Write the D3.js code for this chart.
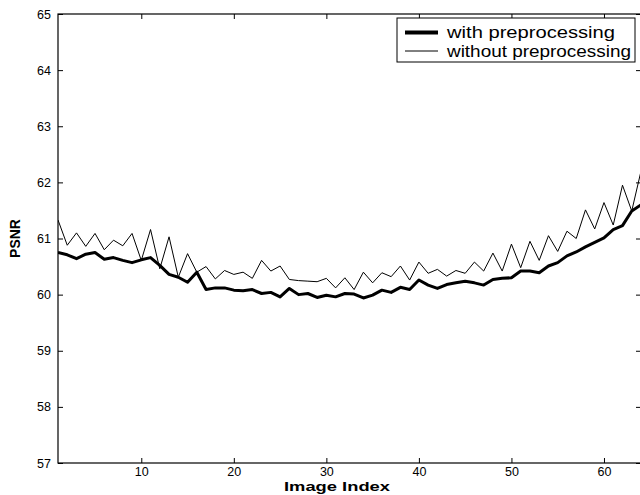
<!DOCTYPE html>
<html>
<head>
<meta charset="utf-8">
<script src="https://cdn.jsdelivr.net/npm/d3@7"></script>
<style>
  body { margin: 0; background: #fff; }
  text { font-family: "Liberation Sans", Arial, sans-serif; fill: #000; }
</style>
</head>
<body>
<svg id="chart" width="640" height="495"></svg>
<script>
const imageIndex = d3.range(1, 65);

const withPre = [
  60.75, 60.71, 60.64, 60.72, 60.75, 60.63, 60.66, 60.61, 60.57, 60.62,
  60.66, 60.52, 60.36, 60.31, 60.22, 60.40, 60.09, 60.12, 60.12, 60.08,
  60.07, 60.09, 60.02, 60.04, 59.96, 60.11, 60.00, 60.02, 59.95, 59.99,
  59.96, 60.02, 60.01, 59.94, 59.99, 60.08, 60.04, 60.13, 60.09, 60.26,
  60.17, 60.11, 60.18, 60.21, 60.24, 60.21, 60.17, 60.27, 60.29, 60.30,
  60.42, 60.42, 60.39, 60.51, 60.57, 60.69, 60.76, 60.85, 60.93, 61.01,
  61.16, 61.23, 61.49, 61.60
];

const withoutPre = [
  61.33, 60.88, 61.10, 60.86, 61.09, 60.80, 60.97, 60.87, 61.09, 60.61,
  61.16, 60.46, 61.03, 60.31, 60.73, 60.40, 60.50, 60.28, 60.43, 60.36,
  60.40, 60.29, 60.61, 60.42, 60.51, 60.27, 60.25, 60.24, 60.23, 60.29,
  60.12, 60.30, 60.09, 60.40, 60.21, 60.39, 60.32, 60.51, 60.26, 60.58,
  60.38, 60.45, 60.33, 60.43, 60.38, 60.58, 60.42, 60.74, 60.42, 60.90,
  60.48, 60.95, 60.61, 61.05, 60.77, 61.13, 61.00, 61.51, 61.17, 61.64,
  61.24, 61.95, 61.49, 62.20
];

const xTicks = [10, 20, 30, 40, 50, 60];
const yTicks = [57, 58, 59, 60, 61, 62, 63, 64, 65];
const legendLabels = ['with preprocessing', 'without preprocessing'];

const plotLeft = 58, plotTop = 14, plotRight = 641, plotBottom = 463;

const svg = d3.select('#chart');

const x = d3.scaleLinear().domain([1, 64]).range([plotLeft, plotRight]);
const y = d3.scaleLinear().domain([57, 65]).range([plotBottom, plotTop]);

// clip so the lines stop at the frame
svg.append('defs').append('clipPath')
    .attr('id', 'plot-clip')
  .append('rect')
    .attr('x', plotLeft).attr('y', plotTop)
    .attr('width', plotRight - plotLeft).attr('height', plotBottom - plotTop);

const axes = svg.append('g');

// axes: labels outside, ticks pointing inward
const tickLen = 5;
axes.append('g')
    .attr('transform', `translate(0,${plotBottom})`)
    .call(d3.axisBottom(x).tickValues(xTicks).tickSize(-tickLen).tickPadding(4))
    .call(g => g.select('.domain').remove());
axes.append('g')
    .attr('transform', `translate(0,${plotTop})`)
    .call(d3.axisTop(x).tickValues(xTicks).tickSize(-tickLen).tickFormat(''))
    .call(g => g.select('.domain').remove());
axes.append('g')
    .attr('transform', `translate(${plotLeft},0)`)
    .call(d3.axisLeft(y).tickValues(yTicks).tickSize(-tickLen).tickPadding(7))
    .call(g => g.select('.domain').remove());
axes.append('g')
    .attr('transform', `translate(${plotRight},0)`)
    .call(d3.axisRight(y).tickValues(yTicks).tickSize(-tickLen).tickFormat(''))
    .call(g => g.select('.domain').remove());

axes.selectAll('.tick line').attr('stroke', '#000');
axes.selectAll('.tick text')
    .attr('font-size', 12.5)
    .style('font-family', '"Liberation Sans", Arial, sans-serif');

axes.append('rect')
    .attr('x', plotLeft).attr('y', plotTop)
    .attr('width', plotRight - plotLeft).attr('height', plotBottom - plotTop)
    .attr('fill', 'none')
    .attr('stroke', '#000')
    .attr('stroke-width', 1.2);

const line = d3.line()
    .x((d, i) => x(imageIndex[i]))
    .y(d => y(d));

const lines = svg.append('g').attr('clip-path', 'url(#plot-clip)');
lines.append('path')
    .datum(withoutPre)
    .attr('d', line)
    .attr('fill', 'none')
    .attr('stroke', '#000')
    .attr('stroke-width', 1);
lines.append('path')
    .datum(withPre)
    .attr('d', line)
    .attr('fill', 'none')
    .attr('stroke', '#000')
    .attr('stroke-width', 3)
    .attr('stroke-linejoin', 'round');

// axis titles (the reference type is a bit wide, hence textLength)
svg.append('text')
    .attr('x', 337)
    .attr('y', 491)
    .attr('text-anchor', 'middle')
    .attr('font-size', 13.5)
    .attr('font-weight', 'bold')
    .attr('textLength', 106)
    .attr('lengthAdjust', 'spacingAndGlyphs')
    .text('Image Index');
svg.append('text')
    .attr('transform', `translate(20,${(plotTop + plotBottom) / 2}) rotate(-90)`)
    .attr('text-anchor', 'middle')
    .attr('font-size', 14)
    .attr('font-weight', 'bold')
    .text('PSNR');

// legend
const legendWidths = [168, 184];
const legend = svg.append('g').attr('transform', 'translate(397,18)');
legend.append('rect')
    .attr('width', 238).attr('height', 44)
    .attr('fill', '#fff')
    .attr('stroke', '#000')
    .attr('stroke-width', 1);
legendLabels.forEach((label, i) => {
  const ly = 14.5 + i * 18.5;
  legend.append('line')
      .attr('x1', 8).attr('x2', 41)
      .attr('y1', ly).attr('y2', ly)
      .attr('stroke', '#000')
      .attr('stroke-width', i === 0 ? 4 : 1);
  legend.append('text')
      .attr('x', 50).attr('y', ly + 5.5)
      .attr('font-size', 16)
      .attr('textLength', legendWidths[i])
      .attr('lengthAdjust', 'spacingAndGlyphs')
      .text(label);
});
</script>
</body>
</html>
